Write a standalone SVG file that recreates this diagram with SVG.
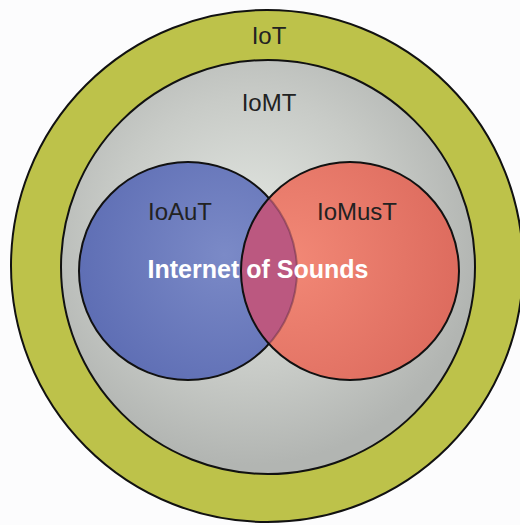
<svg xmlns="http://www.w3.org/2000/svg" width="520" height="525" viewBox="0 0 520 525">
<defs>
<radialGradient id="gGray" cx="250" cy="235" r="230" gradientUnits="userSpaceOnUse">
<stop offset="0" stop-color="#e3e7e2"/>
<stop offset="0.6" stop-color="#c8cbc7"/>
<stop offset="1" stop-color="#b2b5b2"/>
</radialGradient>
<radialGradient id="gBlue" cx="225" cy="255" r="160" gradientUnits="userSpaceOnUse">
<stop offset="0" stop-color="#7b8ac7"/>
<stop offset="1" stop-color="#5c6cb3"/>
</radialGradient>
<radialGradient id="gRed" cx="290" cy="260" r="180" gradientUnits="userSpaceOnUse">
<stop offset="0" stop-color="#f28876"/>
<stop offset="1" stop-color="#dc6a5d"/>
</radialGradient>
<clipPath id="clipBlue"><circle cx="188" cy="271" r="109"/></clipPath>
<clipPath id="clipRed"><circle cx="350" cy="271" r="109"/></clipPath>
</defs>
<style>
.ring{stroke:#111;stroke-width:2}
.lbl{font-family:"Liberation Sans",Arial,sans-serif;font-size:24px;fill:#222;text-anchor:middle}
.main{font-family:"Liberation Sans",Arial,sans-serif;font-size:25px;font-weight:bold;fill:#fff;text-anchor:middle}
</style>
<rect x="0" y="0" width="520" height="525" fill="#fcfcfd"/>
<g id="iot">
<circle class="ring" cx="267" cy="266" r="256" fill="#bdc24a"/>
<text class="lbl" x="269" y="44">IoT</text>
</g>
<g id="iomt">
<circle class="ring" cx="268" cy="267" r="207" fill="url(#gGray)"/>
<text class="lbl" x="269" y="111">IoMT</text>
</g>
<g id="ioaut">
<circle class="ring" cx="188" cy="271" r="109" fill="url(#gBlue)"/>
<text class="lbl" x="180" y="220">IoAuT</text>
</g>
<g id="iomust">
<circle cx="350" cy="271" r="109" fill="url(#gRed)"/>
<circle cx="350" cy="271" r="109" fill="#bb5880" clip-path="url(#clipBlue)"/>
<circle cx="188" cy="271" r="109" fill="none" stroke="#5a2a40" stroke-width="2" stroke-opacity="0.45" clip-path="url(#clipRed)"/>
<circle class="ring" cx="350" cy="271" r="109" fill="none"/>
<text class="lbl" x="357" y="220">IoMusT</text>
</g>
<g id="ios">
<text class="main" x="258" y="278">Internet of Sounds</text>
</g>
<g id="connectors"/>
</svg>
